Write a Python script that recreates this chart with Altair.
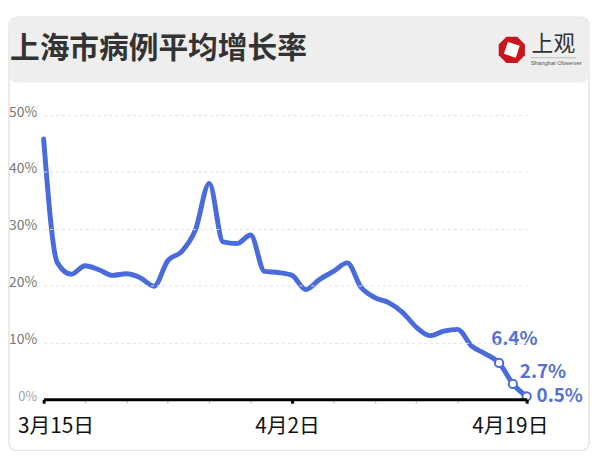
import altair as alt
import pandas as pd

# ---- data ----
dates = ["3月15日", "3月16日", "3月17日", "3月18日", "3月19日", "3月20日", "3月21日",
         "3月22日", "3月23日", "3月24日", "3月25日", "3月26日", "3月27日", "3月28日",
         "3月29日", "3月30日", "3月31日", "4月1日", "4月2日", "4月3日", "4月4日",
         "4月5日", "4月6日", "4月7日", "4月8日", "4月9日", "4月10日", "4月11日",
         "4月12日", "4月13日", "4月14日", "4月15日", "4月16日", "4月17日", "4月18日",
         "4月19日"]
growth = [45.8, 24.0, 22.0, 23.5, 22.8, 21.8, 22.1, 21.4, 19.9, 24.4, 26.0, 29.8,
          38.0, 27.7, 27.4, 28.9, 22.5, 22.3, 21.8, 19.3, 21.1, 22.5, 24.0, 19.7,
          17.9, 17.0, 15.3, 12.7, 11.2, 12.0, 12.3, 9.4, 8.0, 6.4, 2.7, 0.5]
y_ticks = [0, 10, 20, 30, 40, 50]
x_tick_days = [0, 3, 6, 9, 12, 15, 18, 21, 24, 27, 30, 35]
x_label_days = [0, 18, 35]
title_text = "上海市病例平均增长率"

df = pd.DataFrame({"idx": list(range(len(dates))), "date": dates, "v": growth})

BLUE = "#4a6bdc"
LBLUE = "#5572d2"
FONT = "Noto Sans CJK SC"
one = alt.Data(values=[{}])

label_test = " || ".join(f"datum.value == {d}" for d in x_label_days)
label_expr = " : ".join(f"datum.value == {d} ? '{dates[d]}'" for d in x_label_days) + " : ''"

# card + header (pixel positions relative to the plot origin)
card = alt.Chart(one).mark_rect(fill="white", stroke="#e6e4da", strokeWidth=1.5,
                                cornerRadius=8).encode(
    x=alt.value(-35), x2=alt.value(551), y=alt.value(-99), y2=alt.value(339))
header = alt.Chart(one).mark_rect(fill="#eeeeee", cornerRadius=8).encode(
    x=alt.value(-35), x2=alt.value(551), y=alt.value(-99), y2=alt.value(-33))
title = alt.Chart(one).mark_text(text=title_text, font=FONT, fontSize=30, fontWeight="bold",
                                 color="#333333", align="left", baseline="middle").encode(
    x=alt.value(-34), y=alt.value(-67))
octagon = "M -0.41 -1 L 0.41 -1 L 1 -0.41 L 1 0.41 L 0.41 1 L -0.41 1 L -1 0.41 L -1 -0.41 Z"
logo1 = alt.Chart(one).mark_point(shape=octagon, filled=True, fill="#c9161d", opacity=1,
                                  size=700, strokeWidth=0).encode(
    x=alt.value(473), y=alt.value(-66))
logo2 = alt.Chart(one).mark_point(shape="square", filled=True, fill="white", opacity=1,
                                  size=160, angle=18, strokeWidth=0).encode(
    x=alt.value(473), y=alt.value(-66))
logo3 = alt.Chart(one).mark_text(text="上观", font=FONT, fontSize=22, color="#333333",
                                 align="left", baseline="middle").encode(
    x=alt.value(493), y=alt.value(-72))
logo_rule = alt.Chart(one).mark_rule(color="#999999", strokeWidth=0.6).encode(
    x=alt.value(492), x2=alt.value(538), y=alt.value(-58))
logo4 = alt.Chart(one).mark_text(text="Shanghai Observer", font="Liberation Sans", fontSize=6,
                                 color="#555555", align="left", baseline="middle").encode(
    x=alt.value(492), y=alt.value(-53))

x_enc = alt.X("idx:Q", scale=alt.Scale(domain=[0, 35], nice=False, zero=False),
              axis=alt.Axis(values=x_tick_days, labelExpr=label_expr, title=None, grid=False,
                            domainColor="#000000", domainWidth=3, zindex=1,
                            tickColor={"condition": {"test": label_test, "value": "#000000"},
                                       "value": "#bbbbbb"},
                            tickWidth={"condition": {"test": label_test, "value": 3},
                                       "value": 1},
                            tickSize=4, labelFont=FONT, labelFontSize=21,
                            labelColor="#111111", labelPadding=13, labelOverlap=False,
                            labelFlush=False, labelBaseline="top",
                            labelOffset={"condition": [{"test": "datum.value == 0", "value": 12},
                                                       {"test": "datum.value == 18", "value": -5}],
                                         "value": -17}))
y_enc = alt.Y("v:Q", scale=alt.Scale(domain=[0, 50], nice=False),
              axis=alt.Axis(values=y_ticks, labelExpr="datum.value + '%'", title=None,
                            domain=False, ticks=False, grid=True, gridColor="#e2e2e2",
                            gridDash=[3, 3], gridWidth=1, labelFont=FONT, zindex=1,
                            labelFontSize={"condition": {"test": "datum.value == 0", "value": 13},
                                           "value": 14},
                            labelColor={"condition": {"test": "datum.value == 0", "value": "#a0a0a0"},
                                        "value": "#777777"},
                            labelPadding=7, labelBaseline="alphabetic", labelOffset=1))

base = alt.Chart(df)
line = base.mark_line(color=BLUE, strokeWidth=5, interpolate="monotone",
                      strokeCap="round", strokeJoin="round").encode(x=x_enc, y=y_enc)

last3 = base.transform_filter("datum.idx >= 33")
pts = last3.mark_point(shape="circle", filled=True, fill="white", stroke=BLUE,
                       strokeWidth=2, size=70, opacity=1).encode(x="idx:Q", y="v:Q")

def ann(i, dx, dy):
    return base.transform_filter(f"datum.idx == {i}").transform_calculate(
        lab="format(datum.v, '.1f') + '%'").mark_text(
        font=FONT, fontSize=19, fontWeight="bold", color=LBLUE, align="left",
        baseline="middle", dx=dx, dy=dy).encode(x="idx:Q", y="v:Q", text="lab:N")

chart = alt.layer(
    card, header, title, logo1, logo2, logo3, logo_rule, logo4,
    line, pts, ann(33, -8, -24), ann(34, 7, -12), ann(35, 10, 0)
).properties(
    width=488, height=287,
    padding={"left": 36, "top": 106, "right": 66, "bottom": 50},
    autosize=alt.AutoSizeParams(type="none"),
).configure_view(stroke=None).configure(background="white")

chart.save("out.html", embed_options={"renderer": "svg", "actions": False})
